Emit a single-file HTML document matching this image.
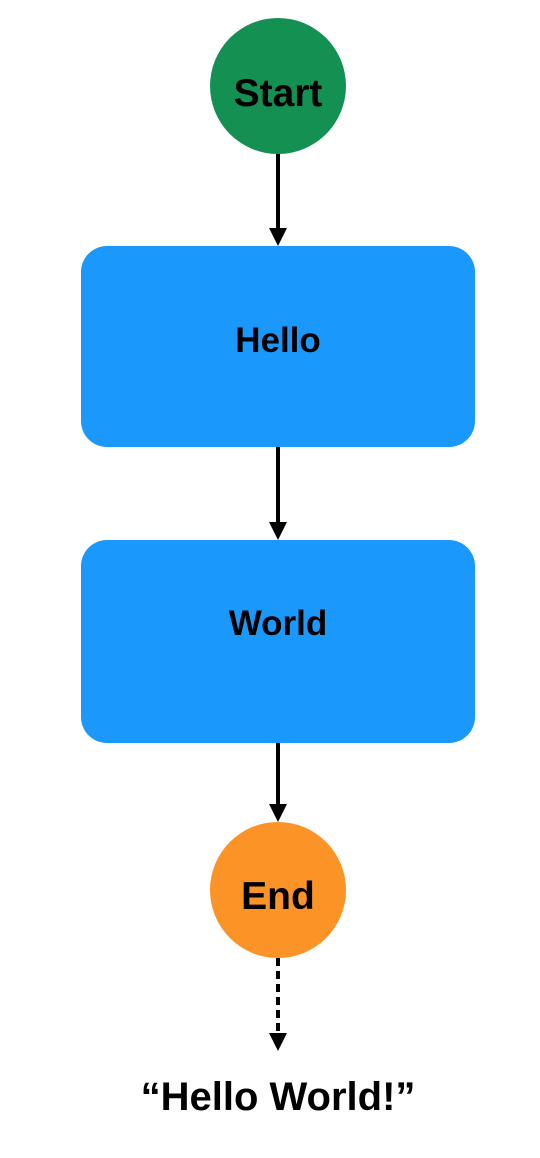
<!DOCTYPE html>
<html><head><style>body{margin:0;background:#fff;}</style></head><body>
<svg width="540" height="1158" xmlns="http://www.w3.org/2000/svg" style="display:block">
<g font-family="Liberation Sans, sans-serif" font-weight="bold" text-anchor="middle">
<circle cx="278" cy="86" r="68" fill="#149052"/>
<text x="278" y="106" font-size="39">Start</text>
<line x1="278" y1="154" x2="278" y2="230" stroke="#000" stroke-width="4"/>
<polygon points="269,228 287,228 278,246" fill="#000"/>
<rect x="81" y="246" width="394" height="201" rx="26" fill="#1a98fc"/>
<text x="278" y="352" font-size="35">Hello</text>
<line x1="278" y1="447" x2="278" y2="524" stroke="#000" stroke-width="4"/>
<polygon points="269,522 287,522 278,540" fill="#000"/>
<rect x="81" y="540" width="394" height="203" rx="26" fill="#1a98fc"/>
<text x="278" y="635" font-size="35">World</text>
<line x1="278" y1="743" x2="278" y2="806" stroke="#000" stroke-width="4"/>
<polygon points="269,804 287,804 278,822" fill="#000"/>
<circle cx="278" cy="890" r="68" fill="#fc9326"/>
<text x="278" y="909" font-size="39">End</text>
<line x1="278" y1="958" x2="278" y2="1034" stroke="#000" stroke-width="4" stroke-dasharray="8,5"/>
<polygon points="269,1033 287,1033 278,1051" fill="#000"/>
<text x="278" y="1110" font-size="40">“Hello World!”</text>
</g>
</svg>
</body></html>
